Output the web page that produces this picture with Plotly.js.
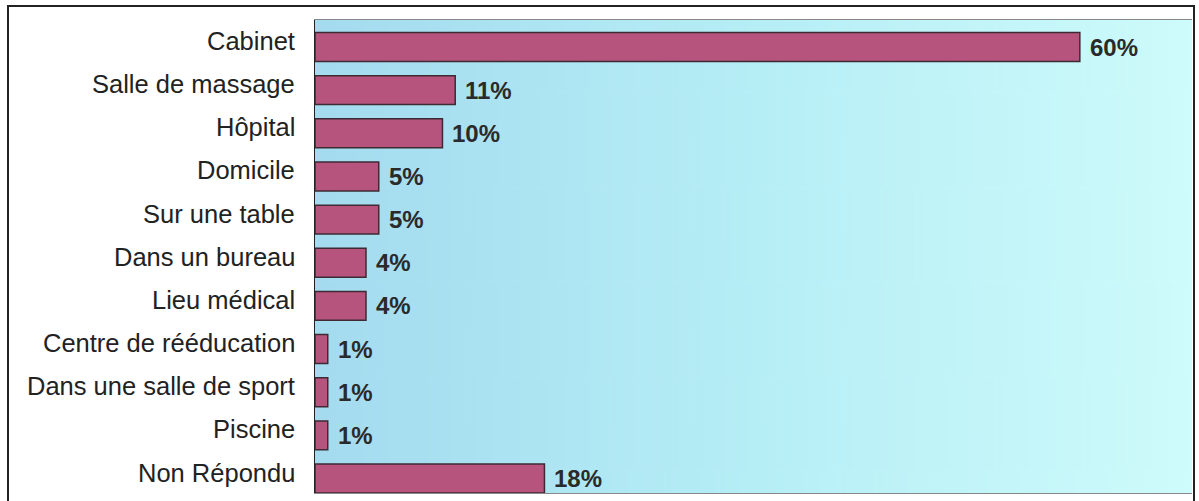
<!DOCTYPE html>
<html><head><meta charset="utf-8">
<script src="https://cdn.plot.ly/plotly-3.0.1.min.js"></script>
<style>
html,body{margin:0;padding:0;background:#fff;}
#wrap{position:relative;width:1199px;height:501px;}
#chart{position:absolute;left:0;top:0;width:1199px;height:501px;}
#frame{position:absolute;left:7px;top:5px;width:1188px;height:510px;border:2px solid #222;box-sizing:border-box;pointer-events:none;}
</style></head>
<body>
<div id="wrap"><div id="chart"></div><div id="frame"></div></div>
<script>
const categories = ["Cabinet","Salle de massage","Hôpital","Domicile","Sur une table","Dans un bureau","Lieu médical","Centre de rééducation","Dans une salle de sport","Piscine","Non Répondu"];
const values = [60, 11, 10, 5, 5, 4, 4, 1, 1, 1, 18];
const valueLabels = ["60%","11%","10%","5%","5%","4%","4%","1%","1%","1%","18%"];

// gradient background image (style only)
const cv = document.createElement('canvas');
cv.width = 400; cv.height = 10;
const ctx = cv.getContext('2d');
const g = ctx.createLinearGradient(0,0,400,0);
g.addColorStop(0,'#a4dbef');
g.addColorStop(0.5,'#b6eef6');
g.addColorStop(1,'#cefbfb');
ctx.fillStyle = g; ctx.fillRect(0,0,400,10);
const bg = cv.toDataURL();

const FONT = 'Liberation Sans, Arial, sans-serif';

const trace = {
  type:'bar', orientation:'h',
  y: categories, x: values,
  marker:{color:'#b6547e', line:{color:'#3e2a33', width:1.5}},
  hoverinfo:'none'
};

const annotations = [];
categories.forEach((c,i)=>{
  annotations.push({xref:'paper', yref:'y', x:0, y:c, text:c, showarrow:false,
    xanchor:'right', yanchor:'middle', xshift:-18, yshift:6,
    font:{family:FONT, size:25.5, color:'#222'}});
  annotations.push({xref:'x', yref:'y', x:values[i], y:c, text:valueLabels[i], showarrow:false,
    xanchor:'left', yanchor:'middle', xshift:8, yshift:0,
    font:{family:FONT, size:24, color:'#2a2a2a', weight:'bold'}});
});

const layout = {
  width:1199, height:501,
  margin:{l:315, r:7, t:20, b:8, pad:0},
  paper_bgcolor:'rgba(0,0,0,0)', plot_bgcolor:'rgba(0,0,0,0)',
  bargap:0.33,
  showlegend:false,
  xaxis:{range:[0,68.8], showgrid:false, zeroline:false, showticklabels:false, ticks:'', showline:true, linecolor:'#888', linewidth:1, mirror:true},
  yaxis:{range:[10.336,-0.626], showgrid:false, zeroline:false, ticks:'', showticklabels:false, showline:true, linecolor:'#222', linewidth:1.5},
  images:[{source:bg, xref:'paper', yref:'paper', x:0, y:1, sizex:1, sizey:1, sizing:'stretch', layer:'below', xanchor:'left', yanchor:'top'}],
  annotations: annotations,
  font:{family:FONT}
};

Plotly.newPlot('chart',[trace],layout,{staticPlot:true, displayModeBar:false});
</script>
</body></html>
